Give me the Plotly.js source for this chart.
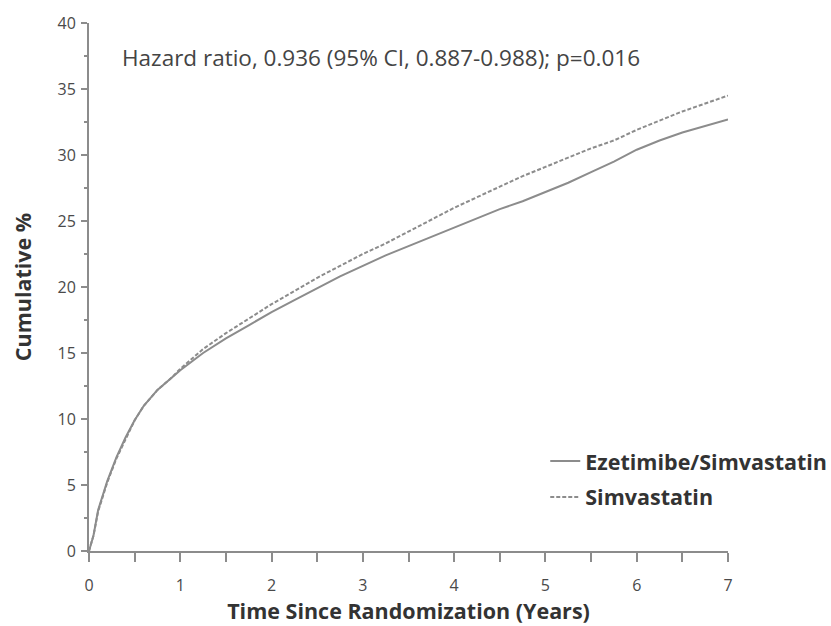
<!DOCTYPE html>
<html>
<head>
<meta charset="utf-8">
<script src="https://cdn.plot.ly/plotly-3.0.1.min.js"></script>
<style>html,body{margin:0;padding:0;background:#fff;}#chart{width:831px;height:626px;}</style>
</head>
<body>
<div id="chart"></div>
<script>
const years = [0, 0.05, 0.1, 0.2, 0.3, 0.4, 0.5, 0.6, 0.75, 0.9, 1.0, 1.25, 1.5, 1.75, 2.0, 2.25, 2.5, 2.75, 3.0, 3.25, 3.5, 3.75, 4.0, 4.25, 4.5, 4.75, 5.0, 5.25, 5.5, 5.75, 6.0, 6.25, 6.5, 6.75, 7.0];
const simvastatin = [0, 1.2, 3.0, 5.2, 7.0, 8.5, 9.9, 11.0, 12.2, 13.1, 13.8, 15.3, 16.5, 17.6, 18.7, 19.7, 20.7, 21.6, 22.5, 23.3, 24.2, 25.1, 26.0, 26.8, 27.6, 28.4, 29.1, 29.8, 30.5, 31.1, 31.9, 32.6, 33.3, 33.9, 34.5];
const ezetimibeSimvastatin = [0, 1.2, 3.1, 5.3, 7.1, 8.6, 9.9, 11.0, 12.2, 13.1, 13.7, 15.0, 16.1, 17.1, 18.1, 19.0, 19.9, 20.8, 21.6, 22.4, 23.1, 23.8, 24.5, 25.2, 25.9, 26.5, 27.2, 27.9, 28.7, 29.5, 30.4, 31.1, 31.7, 32.2, 32.7];
const seriesNames = ["Ezetimibe/Simvastatin", "Simvastatin"];
const xTickVals = [0, 1, 2, 3, 4, 5, 6, 7];
const yTickVals = [0, 5, 10, 15, 20, 25, 30, 35, 40];
const annotationText = "Hazard ratio, 0.936 (95% CI, 0.887-0.988); p=0.016";

const FONT = "Open Sans, Noto Sans, DejaVu Sans, sans-serif";
const lineColor = "#8c8c8c";

const traces = [
  {x: years, y: ezetimibeSimvastatin, name: seriesNames[0], legendgroup: "a", mode: "lines",
   line: {color: lineColor, width: 2}},
  {x: years, y: simvastatin, name: seriesNames[1], legendgroup: "b", mode: "lines",
   line: {color: lineColor, width: 2, dash: "4px,2px"}}
];

const axisCommon = {
  showgrid: false, zeroline: false, showline: true, linecolor: "#8c8c8c", linewidth: 2,
  ticks: "outside", tickcolor: "#8c8c8c", tickwidth: 2,
  tickfont: {family: FONT, size: 16, color: "#4a4a4a"}
};

const layout = {
  width: 831, height: 626,
  margin: {l: 89, r: 103, t: 23, b: 75, autoexpand: false},
  paper_bgcolor: "#fff", plot_bgcolor: "#fff",
  showlegend: true,
  legend: {x: 0.714, y: 0.209, xanchor: "left", yanchor: "top", bgcolor: "rgba(0,0,0,0)",
    traceorder: "grouped", tracegroupgap: 5,
    font: {family: FONT, size: 21.5, color: "#333", weight: "bold"}},
  xaxis: Object.assign({}, axisCommon, {
    range: [0, 7], tickvals: xTickVals, ticklen: 9, ticklabelstandoff: 10,
    minor: {dtick: 0.5, ticklen: 9, tickcolor: "#8c8c8c", tickwidth: 2, ticks: "outside"},
    title: {text: "Time Since Randomization (Years)", standoff: 2,
      font: {family: FONT, size: 21.5, color: "#333", weight: "bold"}}
  }),
  yaxis: Object.assign({}, axisCommon, {
    range: [0, 40], tickvals: yTickVals, ticklen: 6, ticklabelstandoff: 2,
    minor: {dtick: 2.5, ticklen: 3, tickcolor: "#8c8c8c", tickwidth: 2, ticks: "outside"},
    title: {text: "Cumulative %", standoff: 20,
      font: {family: FONT, size: 21.5, color: "#333", weight: "bold"}}
  }),
  annotations: [{
    x: 0.34, y: 37.35, xref: "x", yref: "y", xanchor: "left", yanchor: "middle",
    text: annotationText, showarrow: false,
    font: {family: FONT, size: 22.5, color: "#444"}
  }]
};

Plotly.newPlot("chart", traces, layout, {displayModeBar: false, staticPlot: true});
</script>
</body>
</html>
